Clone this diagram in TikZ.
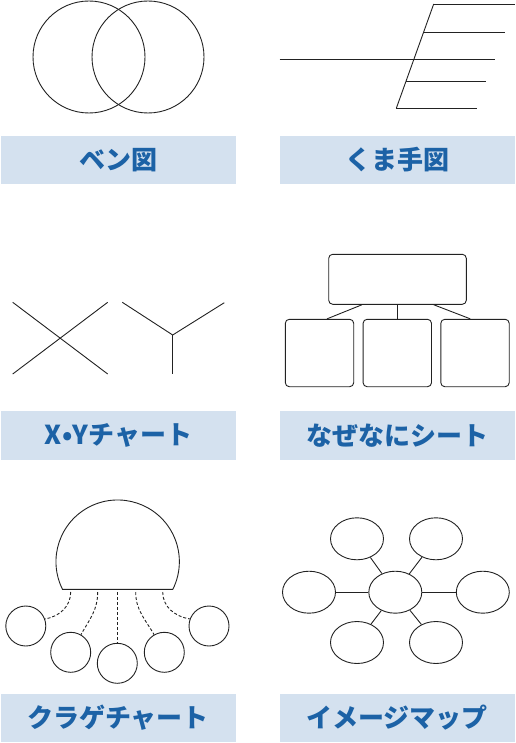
\documentclass[tikz,border=0pt]{standalone}
\usepackage{fontspec}
\newfontfamily\jpfont{Noto Sans CJK JP}
\usetikzlibrary{shapes.geometric}
\definecolor{labelfill}{RGB}{212,225,239}
\definecolor{labeltext}{RGB}{28,98,166}
\definecolor{ink}{RGB}{34,34,34}
\tikzset{
  labelbox/.style={fill=labelfill, text=labeltext, minimum width=235pt, minimum height=48pt,
    inner sep=0pt, font=\jpfont\bfseries\fontsize{26}{26}\selectfont},
  ring/.style={draw=ink, circle, inner sep=0pt, minimum size=#1},
  card/.style={draw=ink, rounded corners=4pt, inner sep=0pt},
  bubble/.style={draw=ink, ellipse, minimum width=53pt, minimum height=42pt, inner sep=0pt},
  tentacle/.style={dash pattern=on 3pt off 2pt},
}
\begin{document}
\begin{tikzpicture}[x=1pt, y=1pt, color=ink, line width=0.9pt]
  \useasboundingbox (0,0) rectangle (515,-743);
  % labels
  \node[labelbox] (venn) at (118.5,-160) {ベン図};
  \node[labelbox] (fish) at (397.5,-160) {くま手図};
  \node[labelbox, minimum height=49pt] (xychart) at (118.5,-435.3) {X•Yチャート};
  \node[labelbox, minimum height=49pt] (whysheet) at (397.5,-435.3) {なぜなにシート};
  \node[labelbox] (jelly) at (118,-717.5) {クラゲチャート};
  \node[labelbox] (imagemap) at (397,-717.5) {イメージマップ};

  % venn
  \node[ring=112pt] (setA) at (89,-57) {};
  \node[ring=112pt] (setB) at (148,-57) {};

  % fishbone
  \coordinate (headtop) at (433.7,-4);
  \coordinate (headfoot) at (396.3,-108.3);
  \draw (headtop) -- (headfoot);
  \draw (headtop) -- (514.5,-4);
  \draw (423.6,-32.3) -- (504.7,-32.3);
  \draw (279.7,-59.3) -- (494.7,-59.3);
  \draw (405.8,-81.7) -- (486.3,-81.7);
  \draw (headfoot) -- (477,-108.3);

  % x and y
  \draw (12.7,-302.3) -- (107.7,-374);
  \draw (12.7,-374) -- (107.7,-302.3);
  \coordinate (yfork) at (172.7,-335);
  \draw (122.3,-302.3) -- (yfork) -- (224.3,-302.7);
  \draw (yfork) -- (172.7,-374.3);

  % why what sheet
  \node[card, minimum width=137.6pt, minimum height=50pt] (top) at (397.5,-279.3) {};
  \node[card, minimum width=68.4pt, minimum height=67.4pt] (whyA) at (319.5,-353) {};
  \node[card, minimum width=68.4pt, minimum height=67.4pt] (whyB) at (397.3,-353) {};
  \node[card, minimum width=68.4pt, minimum height=67.4pt] (whyC) at (475,-353) {};
  \begin{scope}[-]
    \draw ([xshift=-35.5pt]top.south) to ([xshift=7.5pt]whyA.north);
    \draw (top.south) to (top.south |- whyB.north);
    \draw ([xshift=36.2pt]top.south) to ([xshift=-4.7pt]whyC.north);
  \end{scope}

  % jellyfish
  \draw (62.5,-589.3) arc[start angle=206.6, end angle=-26.6, radius=61.7] -- cycle;
  \node[ring=40pt] (bellA) at (25.8,-626) {};
  \node[ring=40pt] (bellB) at (70.7,-652.3) {};
  \node[ring=40pt] (bellC) at (117.3,-663.3) {};
  \node[ring=40pt] (bellD) at (164.3,-652.3) {};
  \node[ring=40pt] (bellE) at (209,-626) {};
  \begin{scope}[tentacle]
    \draw (70.7,-592) to[out=-90, in=10] (bellA.20);
    \draw (97.7,-592) to[out=-90, in=60] (bellB.60);
    \draw (117.3,-592) to (bellC.north);
    \draw (135.7,-592) to[out=-90, in=120] (bellD.120);
    \draw (162.7,-592) to[out=-90, in=170] (bellE.160);
  \end{scope}

  % image map
  \node[bubble] (hub) at (395.3,-592.2) {};
  \node[bubble] (m1) at (357,-538.8) {};
  \node[bubble] (m2) at (436,-538.8) {};
  \node[bubble] (m3) at (482.8,-592.2) {};
  \node[bubble] (m4) at (436,-642.5) {};
  \node[bubble] (m5) at (357,-642.5) {};
  \node[bubble] (m6) at (309,-592.2) {};
  \begin{scope}[-]
    \draw (hub) to (m1);
    \draw (hub) to (m2);
    \draw (hub) to (m3);
    \draw (hub) to (m4);
    \draw (hub) to (m5);
    \draw (hub) to (m6);
  \end{scope}
\end{tikzpicture}
\end{document}
